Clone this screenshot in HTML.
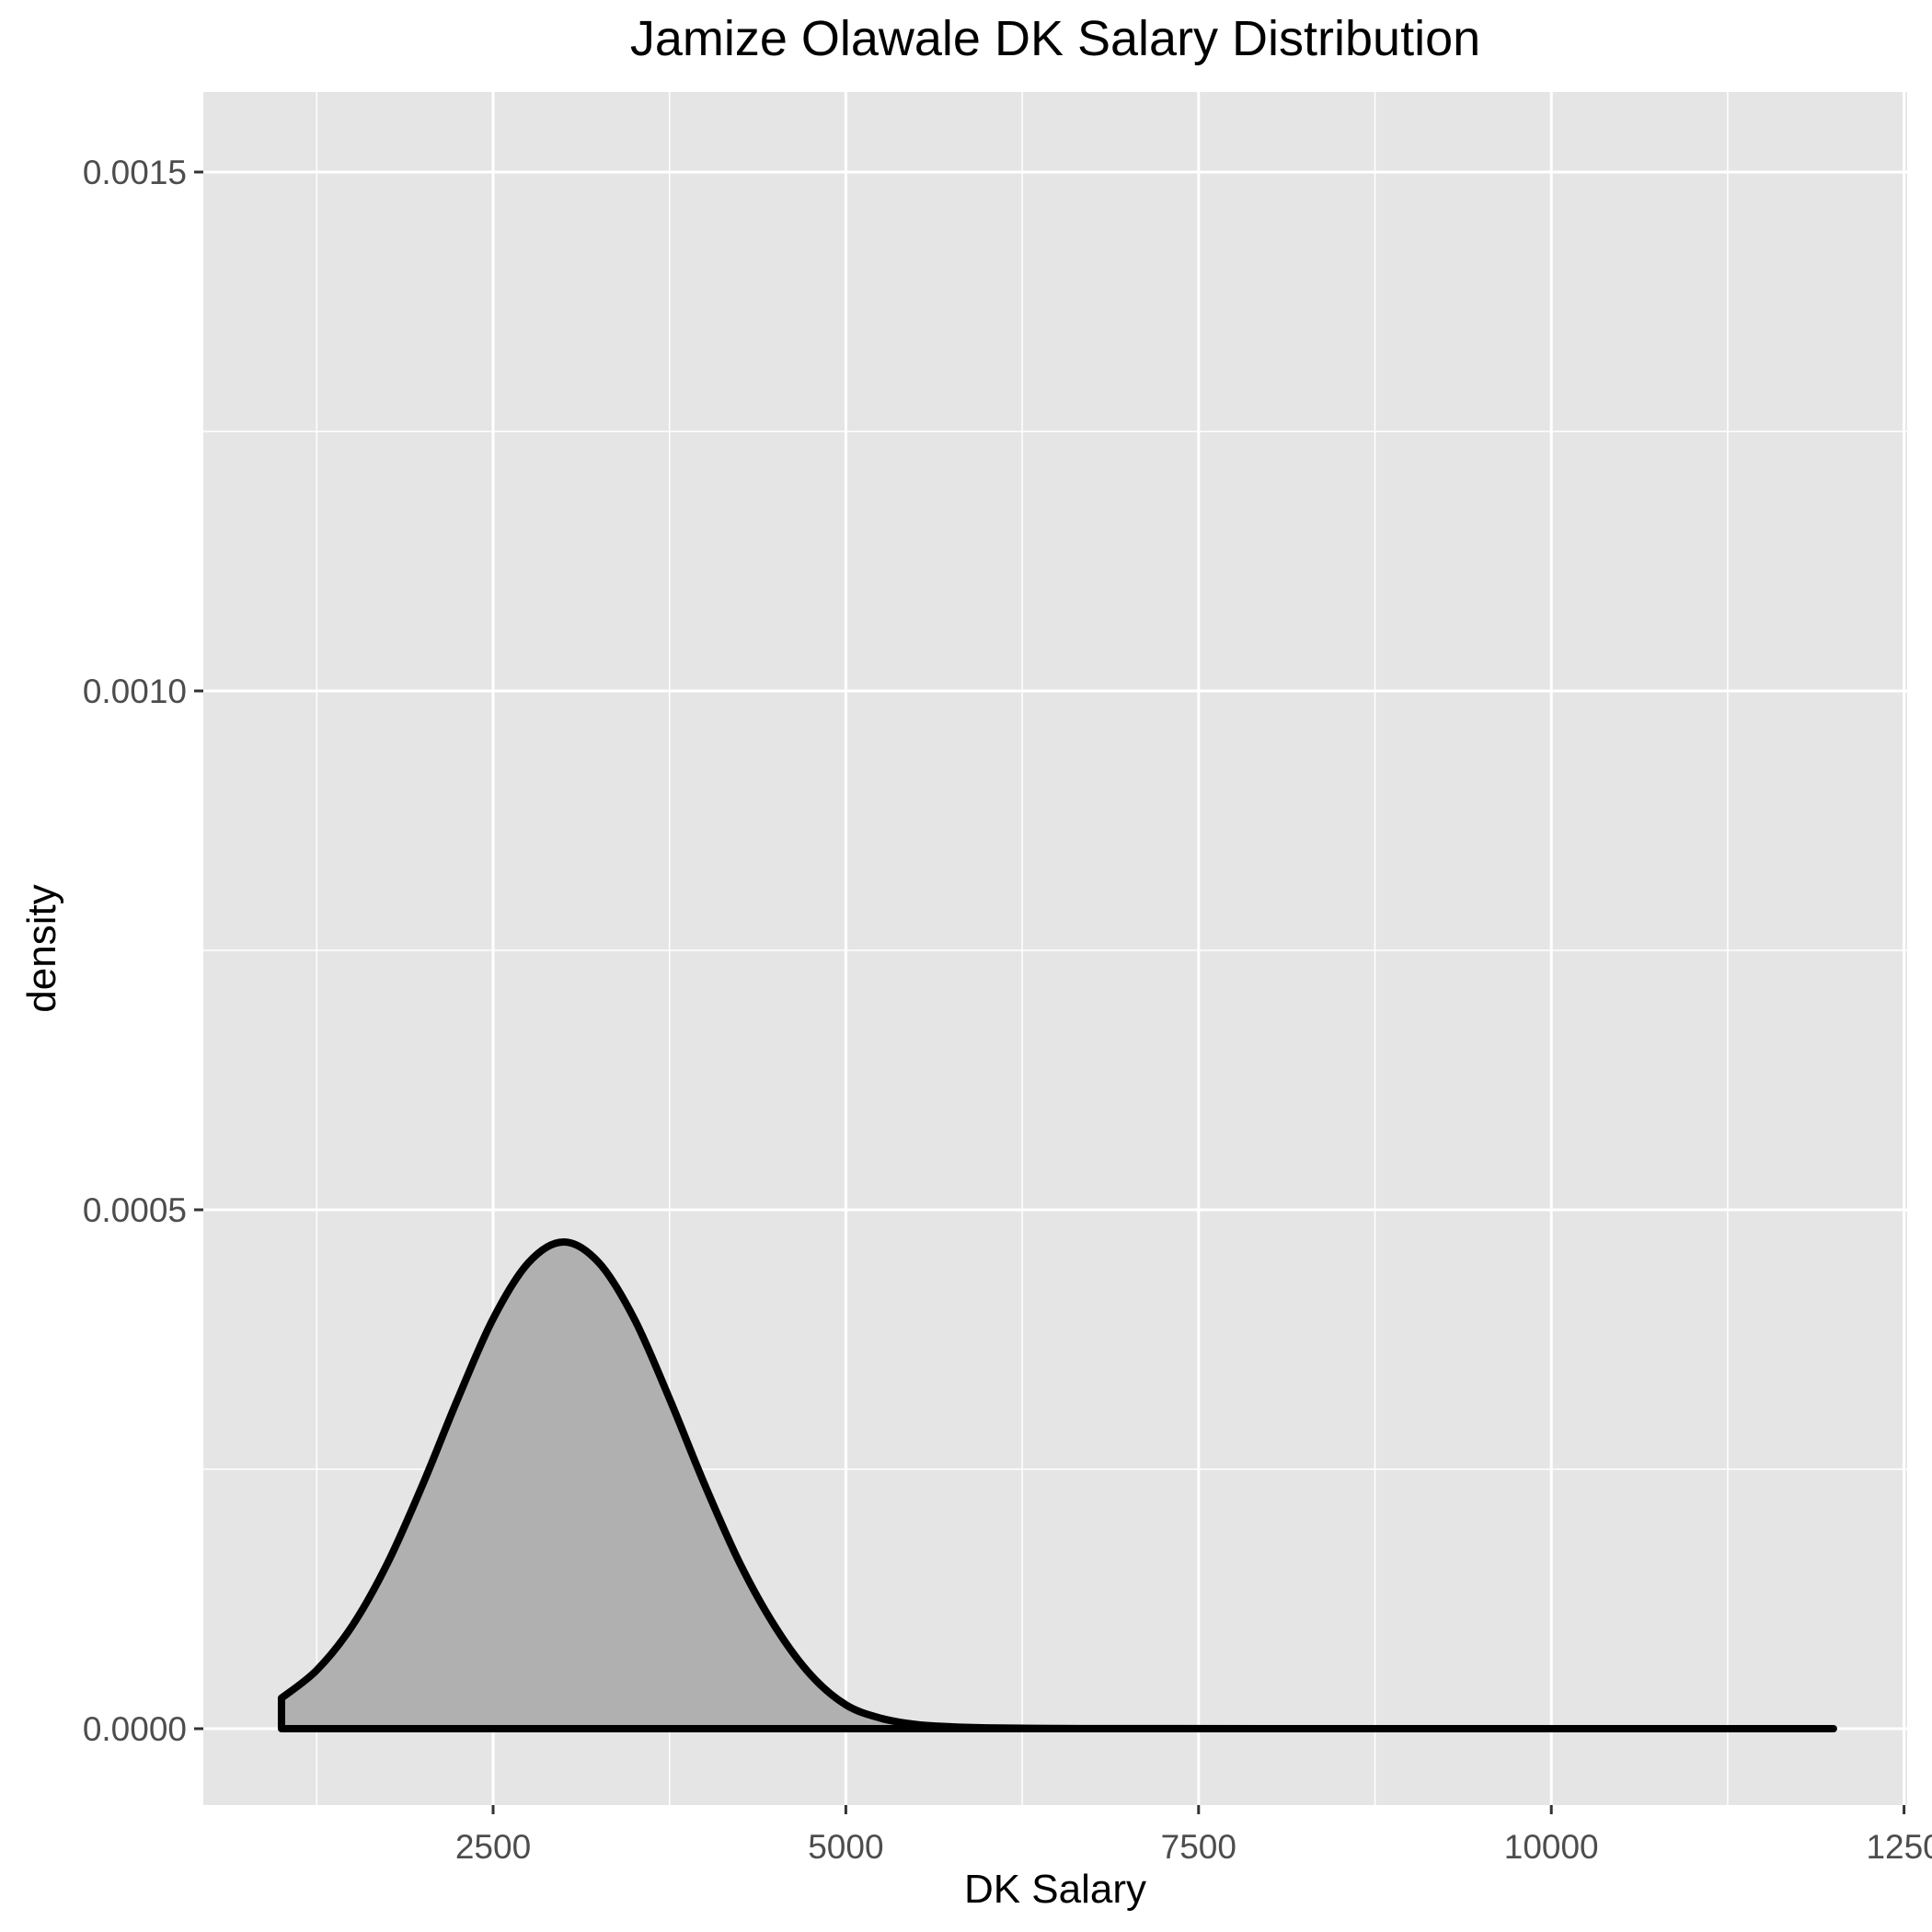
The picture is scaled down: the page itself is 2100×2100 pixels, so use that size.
<!DOCTYPE html>
<html><head><meta charset="utf-8"><style>
html,body{margin:0;padding:0;background:#fff}
svg{display:block;font-family:"Liberation Sans",Arial,sans-serif}
</style></head><body>
<svg id="chart" width="2100" height="2100" viewBox="0 0 2100 2100">
<rect x="0" y="0" width="2100" height="2100" fill="#fff"/>
<text x="1147" y="60" font-size="54" text-anchor="middle" fill="#000">Jamize Olawale DK Salary Distribution</text>
<g id="plot"></g>
<text x="1147" y="2068" font-size="44" text-anchor="middle" fill="#000">DK Salary</text>
<text x="0" y="0" font-size="44" text-anchor="middle" fill="#000" transform="translate(60,1031) rotate(-90)">density</text>
</svg>
<script>
const salaryX = [1000,1250,1500,1750,2000,2250,2500,2750,3000,3250,3500,3750,4000,4250,4500,4750,5000,5250,5500,5750,6000,6500,7000,8000,10000,12000];
const densityY = [0.0000295,0.0000564,0.0000988,0.000159,0.000235,0.000318,0.000395,0.000449,0.000469,0.000449,0.000395,0.000318,0.000235,0.000159,0.000098,0.000052,0.000023,0.000010,0.000004,0.0000018,0.0000008,0.0000002,0.0000001,0,0,0];
const xTicks = [2500,5000,7500,10000,12500];
const xTickLabels = ["2500","5000","7500","10000","1250"];
const xMinor = [1250,3750,6250,8750,11250];
const yTicks = [0,0.0005,0.001,0.0015];
const yTickLabels = ["0.0000","0.0005","0.0010","0.0015"];
const yMinor = [0.00025,0.00075,0.00125];

const NS = "http://www.w3.org/2000/svg";
const P = {l:221, r:2073, t:100, b:1962};
const xs = v => 536 + (v - 2500) * (383.4 / 2500);
const ys = v => 1879 - v * (564 / 0.0005);
const g = document.getElementById('plot');
function mk(tag, attrs){const e=document.createElementNS(NS,tag);for(const k in attrs)e.setAttribute(k,attrs[k]);g.appendChild(e);return e;}

const panel = mk('rect',{x:P.l,y:P.t,width:P.r-P.l,height:P.b-P.t,fill:'#e5e5e5'});



xMinor.forEach(v=>{const l=mk('line',{x1:xs(v),x2:xs(v),y1:P.t,y2:P.b,stroke:'#fff','stroke-width':1.5});

});
yMinor.forEach(v=>{const l=mk('line',{x1:P.l,x2:P.r,y1:ys(v),y2:ys(v),stroke:'#fff','stroke-width':1.5});

});
xTicks.forEach((v,i)=>{
 const l=mk('line',{x1:xs(v),x2:xs(v),y1:P.t,y2:P.b,stroke:'#fff','stroke-width':3});
 
 
 const t=mk('line',{x1:xs(v),x2:xs(v),y1:P.b,y2:P.b+10,stroke:'#333','stroke-width':3});
 
 
 const tx=mk('text',{x:xs(v),y:P.b+58,'font-size':37,'text-anchor':'middle',fill:'#4d4d4d'});
 tx.textContent=xTickLabels[i];
 
 
});
yTicks.forEach((v,i)=>{
 const l=mk('line',{x1:P.l,x2:P.r,y1:ys(v),y2:ys(v),stroke:'#fff','stroke-width':3});
 
 
 const t=mk('line',{x1:P.l-10,x2:P.l,y1:ys(v),y2:ys(v),stroke:'#333','stroke-width':3});
 
 
 const tx=mk('text',{x:P.l-18,y:ys(v)+13,'font-size':37,'text-anchor':'end',fill:'#4d4d4d'});
 tx.textContent=yTickLabels[i];
 
 
});

const pts = salaryX.map((x,i)=>[xs(x), ys(densityY[i])]);
let d = `M${xs(salaryX[0])},${ys(0)} L${pts[0][0]},${pts[0][1]}`;
for(let i=0;i<pts.length-1;i++){
 const p0=pts[Math.max(0,i-1)],p1=pts[i],p2=pts[i+1],p3=pts[Math.min(pts.length-1,i+2)];
 const c1=[p1[0]+(p2[0]-p0[0])/6,p1[1]+(p2[1]-p0[1])/6];
 const c2=[p2[0]-(p3[0]-p1[0])/6,p2[1]-(p3[1]-p1[1])/6];
 d+=` C${c1[0]},${Math.min(c1[1],ys(0))} ${c2[0]},${Math.min(c2[1],ys(0))} ${p2[0]},${p2[1]}`;
}
d+=` L${xs(salaryX[salaryX.length-1])},${ys(0)} Z`;
const area = mk('path',{d:d,fill:'#b0b0b0',stroke:'#000','stroke-width':8,'stroke-linejoin':'round','stroke-linecap':'round'});


</script>
</body></html>
